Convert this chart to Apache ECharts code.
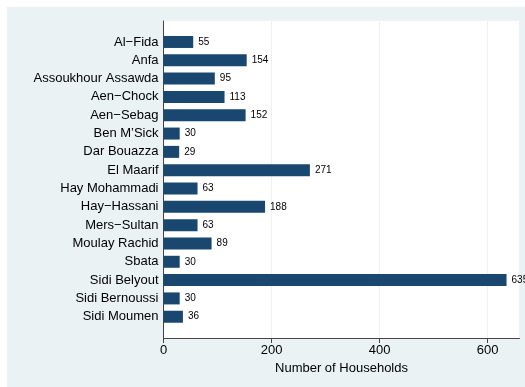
<!DOCTYPE html>
<html>
<head>
<meta charset="utf-8">
<script src="https://cdn.jsdelivr.net/npm/echarts@6/dist/echarts.min.js"></script>
<style>
  html, body { margin: 0; padding: 0; overflow: hidden; width: 100%; height: 100%; }
  /* outer field colour, with a thin white margin at top and left */
  body { background: #eaf2f3; border-top: 7px solid #ffffff; border-left: 7px solid #ffffff; box-sizing: border-box; }
  #chart { position: absolute; left: 7px; top: 7px; width: 518px; height: 380px; }
</style>
</head>
<body>
<div id="chart"></div>
<script>
// Households per prefecture district
const districts = [
  'Al\u2212Fida', 'Anfa', 'Assoukhour Assawda', 'Aen\u2212Chock', 'Aen\u2212Sebag',
  'Ben M\u2019Sick', 'Dar Bouazza', 'El Maarif', 'Hay Mohammadi', 'Hay\u2212Hassani',
  'Mers\u2212Sultan', 'Moulay Rachid', 'Sbata', 'Sidi Belyout', 'Sidi Bernoussi', 'Sidi Moumen'
];
const households = [55, 154, 95, 113, 152, 30, 29, 271, 63, 188, 63, 89, 30, 635, 30, 36];
const xTicks = [0, 200, 400, 600];

const FONT = '"Liberation Sans", Arial, Helvetica, sans-serif';
const NAVY = '#1a476f';
const X_MAX = 659;

const chart = echarts.init(document.getElementById('chart'));
chart.setOption({
  backgroundColor: '#eaf2f3',
  animation: false,
  textStyle: { fontFamily: FONT },
  grid: [
    // plot region (white field, gridlines, axis lines)
    { left: 156.5, right: 5.5, top: 14, bottom: 49, show: true,
      backgroundColor: '#ffffff', borderWidth: 0 },
    // bar band region
    { left: 156.5, right: 5.5, top: 25.8, bottom: 61.1 }
  ],
  xAxis: [
    {
      gridIndex: 0, type: 'value', min: 0, max: X_MAX, interval: 200,
      name: 'Number of Households', nameLocation: 'middle', nameGap: 20,
      nameTextStyle: { fontSize: 13, color: '#000', fontFamily: FONT },
      axisLine: { show: true, lineStyle: { color: '#444', width: 1 } },
      axisTick: { show: true, length: 5, lineStyle: { color: '#444' } },
      axisLabel: {
        fontSize: 13, color: '#000', margin: 6, fontFamily: FONT,
        showMaxLabel: false,
        formatter: v => (xTicks.indexOf(v) >= 0 ? String(v) : '')
      },
      splitLine: { show: true, lineStyle: { color: '#eaf2f3', width: 1 } }
    },
    {
      gridIndex: 1, type: 'value', min: 0, max: X_MAX, show: false
    }
  ],
  yAxis: [
    {
      gridIndex: 0, type: 'value', min: 0, max: 1,
      axisLine: { show: true, lineStyle: { color: '#444', width: 1 } },
      axisTick: { show: false }, axisLabel: { show: false }, splitLine: { show: false }
    },
    {
      gridIndex: 1, type: 'category', data: districts, inverse: true,
      axisLine: { show: false }, axisTick: { show: false },
      axisLabel: { fontSize: 13, color: '#000', margin: 5, fontFamily: FONT }
    }
  ],
  series: [{
    type: 'bar',
    xAxisIndex: 1, yAxisIndex: 1,
    data: households,
    barWidth: 12,
    itemStyle: { color: NAVY },
    label: {
      show: true, position: 'right', distance: 5,
      fontSize: 10, color: '#000', fontFamily: FONT
    }
  }]
});
</script>
</body>
</html>
